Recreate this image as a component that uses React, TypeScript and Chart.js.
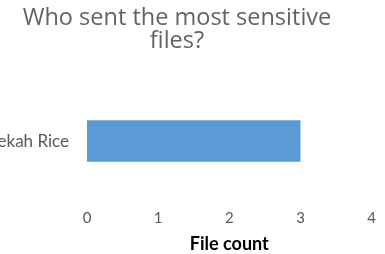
import React, { useEffect, useRef } from "react";
import { Chart, registerables } from "chart.js";

Chart.register(...registerables);

const titleLines = ["Who sent the most sensitive", "files?"];
const categories = ["Rebekah Rice"];
const fileCounts = [3];
const xMin = 0;
const xMax = 4;
const xTitle = "File count";

const LEFT_CROP = 30;
const CANVAS_W = 414;
const CANVAS_H = 254;

export default function App() {
  const ref = useRef<HTMLCanvasElement | null>(null);
  useEffect(() => {
    if (!ref.current) return;
    const chart = new Chart(ref.current, {
      type: "bar",
      data: {
        labels: categories,
        datasets: [
          {
            data: fileCounts,
            backgroundColor: "#5B9BD5",
            borderWidth: 0,
            barPercentage: 1,
            categoryPercentage: 0.345,
          },
        ],
      },
      options: {
        indexAxis: "y",
        responsive: false,
        animation: false,
        layout: { padding: { top: 0, right: 0, bottom: 0, left: 0 } },
        plugins: {
          legend: { display: false },
          tooltip: { enabled: false },
          title: {
            display: true,
            text: titleLines,
            color: "#636363",
            font: { family: "Open Sans, Liberation Sans", size: 23.5, weight: "normal", lineHeight: 0.98 },
            padding: { top: 7, bottom: 28 },
          },
        },
        scales: {
          x: {
            min: xMin,
            max: xMax,
            ticks: {
              stepSize: 1,
              color: "#595959",
              padding: 8,
              font: { family: "Lato, Open Sans", size: 15 },
            },
            grid: { display: false, drawTicks: false },
            border: { display: false },
            title: {
              display: true,
              text: xTitle,
              color: "#000000",
              font: { family: "Lato, Open Sans", size: 18, weight: "bold", lineHeight: 1.05 },
              padding: { top: 0, bottom: 0 },
            },
          },
          y: {
            ticks: {
              color: "#595959",
              padding: 18,
              font: { family: "Lato, Open Sans", size: 17 },
            },
            grid: { display: false, drawTicks: false },
            border: { display: false },
            afterFit: (scale: any) => {
              scale.width = 87 + LEFT_CROP;
            },
          },
        },
      },
    });
    return () => chart.destroy();
  }, []);
  return (
    <div style={{ position: "fixed", left: -LEFT_CROP, top: 0, width: CANVAS_W, height: CANVAS_H }}>
      <canvas ref={ref} width={CANVAS_W} height={CANVAS_H} />
    </div>
  );
}
